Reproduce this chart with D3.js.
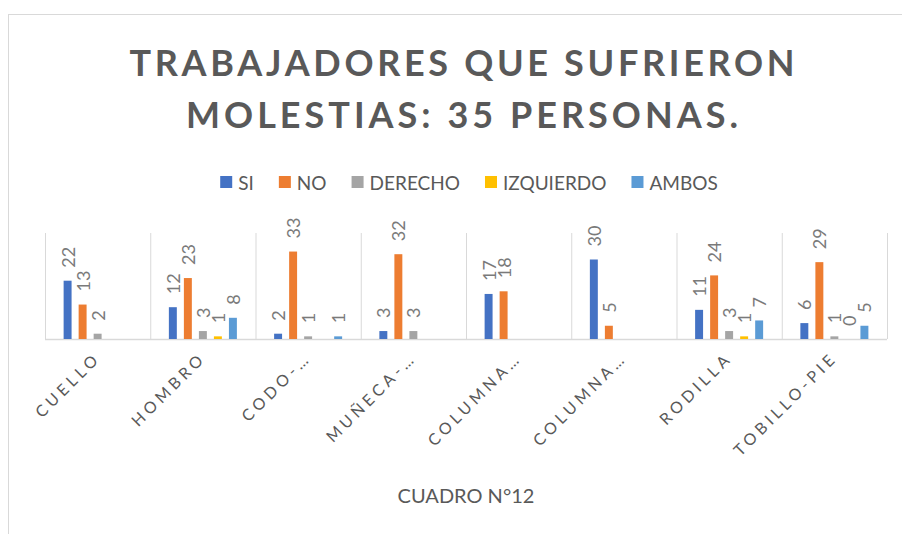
<!DOCTYPE html>
<html>
<head>
<meta charset="utf-8">
<script src="https://cdn.jsdelivr.net/npm/d3@7"></script>
<style>
  body { margin: 0; background: #fff; }
  svg { display: block; font-family: Lato, "Open Sans", sans-serif; }
</style>
</head>
<body>
<script>
const width = 902;
const height = 534;
const margin = { left: 45, right: 15, top: 233, bottom: 195 };

const textColor = "#595959";
const labelColor = "#7a7a7a";
const lineColor = "#d9d9d9";

// data
const categories = ["CUELLO", "HOMBRO", "CODO-…", "MUÑECA-…", "COLUMNA…", "COLUMNA…", "RODILLA", "TOBILLO-PIE"];
const series = ["SI", "NO", "DERECHO", "IZQUIERDO", "AMBOS"];
const colors = ["#4472C4", "#ED7D31", "#A5A5A5", "#FFC000", "#5B9BD5"];
const siValues = [22, 12, 2, 3, 17, 30, 11, 6];
const noValues = [13, 23, 33, 32, 18, 5, 24, 29];
const derechoValues = [2, 3, 1, 3, null, null, 3, 1];
const izquierdoValues = [null, 1, null, null, null, null, 1, 0];
const ambosValues = [null, 8, 1, null, null, null, 7, 5];
const yMax = 40;
const titleLines = ["TRABAJADORES QUE SUFRIERON", "MOLESTIAS: 35 PERSONAS."];
const axisTitle = "CUADRO N°12";

const valuesBySeries = [siValues, noValues, derechoValues, izquierdoValues, ambosValues];

const svg = d3.select("body")
    .append("svg")
    .attr("width", width)
    .attr("height", height);

// chart border
svg.append("rect")
    .attr("x", 8.5)
    .attr("y", 14.5)
    .attr("width", 1000)
    .attr("height", 1000)
    .attr("fill", "#fff")
    .attr("stroke", lineColor);

// title
svg.selectAll(".title").data(titleLines)
    .join("text")
    .attr("class", "title")
    .attr("x", 462)
    .attr("y", (d, i) => 76 + i * 52)
    .attr("text-anchor", "middle")
    .attr("font-size", 36)
    .attr("font-weight", "bold")
    .attr("fill", textColor)
    .attr("textLength", (d, i) => i === 0 ? 665 : 552)
    .attr("lengthAdjust", "spacing")
    .text(d => d);

const x0 = d3.scaleBand()
    .domain(d3.range(categories.length))
    .range([margin.left, width - margin.right]);

const x1 = d3.scaleBand()
    .domain(series)
    .range([0, x0.bandwidth()])
    .paddingInner(0.47)
    .paddingOuter(1.24);

const y = d3.scaleLinear()
    .domain([0, yMax])
    .range([height - margin.bottom, margin.top]);

// category separators + baseline
const grid = svg.append("g");
grid.selectAll("line.sep")
    .data(d3.range(categories.length + 1))
    .join("line")
    .attr("class", "sep")
    .attr("x1", i => margin.left + i * x0.step() + 0.5)
    .attr("x2", i => margin.left + i * x0.step() + 0.5)
    .attr("y1", y(yMax))
    .attr("y2", y(0))
    .attr("stroke", lineColor);
grid.append("line")
    .attr("x1", margin.left)
    .attr("x2", width - margin.right)
    .attr("y1", y(0) + 0.5)
    .attr("y2", y(0) + 0.5)
    .attr("stroke", lineColor)
    .attr("stroke-width", 1.5);

// flatten
const bars = [];
categories.forEach((c, ci) => {
    series.forEach((s, si) => {
        const v = valuesBySeries[si][ci];
        if (v !== null) bars.push({ ci, s, si, v });
    });
});

const barG = svg.append("g");
barG.selectAll("rect")
    .data(bars)
    .join("rect")
    .attr("x", d => x0(d.ci) + x1(d.s))
    .attr("y", d => y(d.v))
    .attr("width", x1.bandwidth())
    .attr("height", d => y(0) - y(d.v))
    .attr("fill", d => colors[d.si]);

barG.selectAll("text")
    .data(bars)
    .join("text")
    .attr("transform", d => {
        const cx = x0(d.ci) + x1(d.s) + x1.bandwidth() / 2;
        const cy = y(d.v) - 13;
        return "translate(" + cx + "," + cy + ") rotate(-90)";
    })
    .attr("dominant-baseline", "central")
    .attr("font-size", 18)
    .attr("fill", labelColor)
    .text(d => d.v);

// category labels
svg.append("g").selectAll("text")
    .data(categories)
    .join("text")
    .attr("transform", (d, i) => {
        const cx = x0(i) + x0.bandwidth() / 2 + 4;
        return "translate(" + cx + "," + (y(0) + 20) + ") rotate(-45)";
    })
    .attr("text-anchor", "end")
    .attr("font-size", 16)
    .attr("letter-spacing", 4)
    .attr("fill", textColor)
    .text(d => d);

// axis title
svg.append("text")
    .attr("x", (margin.left + width - margin.right) / 2)
    .attr("y", 503)
    .attr("text-anchor", "middle")
    .attr("font-size", 20)
    .attr("fill", textColor)
    .text(axisTitle);

// legend
const legend = svg.append("g");
const items = legend.selectAll("g")
    .data(series)
    .join("g");
items.append("rect")
    .attr("width", 12)
    .attr("height", 12)
    .attr("y", -6)
    .attr("fill", (d, i) => colors[i]);
items.append("text")
    .attr("x", 18)
    .attr("dominant-baseline", "central")
    .attr("font-size", 19)
    .attr("fill", textColor)
    .text(d => d);

let offset = 0;
const positions = [];
items.each(function () {
    const w = 18 + d3.select(this).select("text").node().getComputedTextLength();
    positions.push(offset);
    offset += w + 25;
});
const totalW = offset - 25;
const startX = 469 - totalW / 2;
items.attr("transform", (d, i) => "translate(" + (startX + positions[i]) + ",182)");
</script>
</body>
</html>
